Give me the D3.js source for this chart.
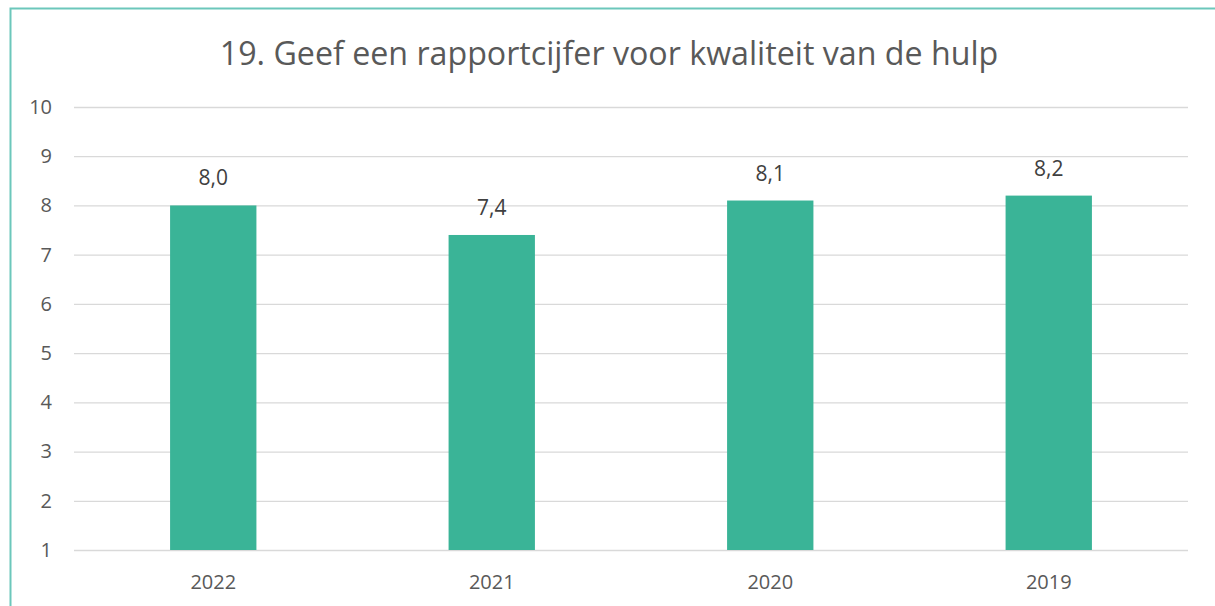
<!DOCTYPE html>
<html><head><meta charset="utf-8">
<script src="https://cdn.jsdelivr.net/npm/d3@7"></script>
<style>html,body{margin:0;padding:0;background:#fff;}svg{display:block;font-family:"Open Sans",sans-serif;}</style>
</head><body><svg id="c" width="1215" height="606"></svg>
<script>
const categories = ["2022","2021","2020","2019"];
const values = [8.0, 7.4, 8.1, 8.2];
const yTicks = [1,2,3,4,5,6,7,8,9,10];
const title = "19. Geef een rapportcijfer voor kwaliteit van de hulp";

(function(){
const svg = d3.select("#c");
svg.append("rect").attr("x",10.5).attr("y",8.5).attr("width",1215).attr("height",620)
  .attr("fill","none").attr("stroke","#6cc7bb").attr("stroke-width",2);

const mL=74, mR=1188, mT=107, mB=550;
const x = d3.scaleBand().domain(categories).range([mL,mR]).paddingInner(0.69).paddingOuter(0.345);
const y = d3.scaleLinear().domain([1,10]).range([mB,mT]);

svg.append("text").attr("x",609).attr("y",65).attr("text-anchor","middle")
  .attr("font-size",32.2).attr("fill","#595959").text(title);

const yAxis = svg.append("g").attr("transform",`translate(${mL},0)`)
  .call(d3.axisLeft(y).tickValues(yTicks).tickSize(-(mR-mL)).tickFormat(d3.format("d")));
yAxis.select(".domain").remove();
yAxis.selectAll(".tick line").attr("stroke","#d9d9d9").attr("stroke-width",1.3);
yAxis.selectAll(".tick text").attr("x",-22).attr("fill","#595959").attr("font-size",20).attr("font-family","'Open Sans',sans-serif");

svg.selectAll("rect.bar").data(values).enter().append("rect").attr("class","bar")
  .attr("x",(d,i)=>x(categories[i])).attr("width",x.bandwidth())
  .attr("y",d=>y(d)).attr("height",d=>y(1)-y(d)).attr("fill","#3ab497");

svg.selectAll("text.val").data(values).enter().append("text").attr("class","val")
  .attr("x",(d,i)=>x(categories[i])+x.bandwidth()/2).attr("y",d=>y(d)-20)
  .attr("text-anchor","middle").attr("font-size",21).attr("fill","#404040")
  .text(d=>d.toFixed(1).replace(".",","));

const xAxis = svg.append("g").attr("transform",`translate(0,${mB})`)
  .call(d3.axisBottom(x).tickSize(0).tickPadding(25));
xAxis.select(".domain").remove();
xAxis.selectAll("text").attr("fill","#595959").attr("font-size",20).attr("font-family","'Open Sans',sans-serif");
})();
</script></body></html>
